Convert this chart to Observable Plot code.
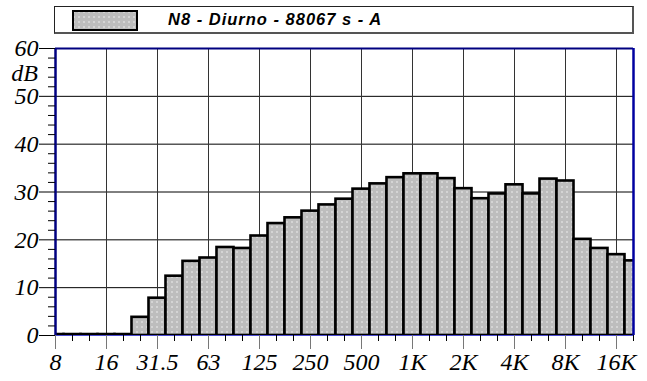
<!DOCTYPE html>
<html>
<head>
<meta charset="utf-8">
<script src="https://cdn.jsdelivr.net/npm/d3@7"></script>
<script src="https://cdn.jsdelivr.net/npm/@observablehq/plot@0.6"></script>
<style>
  html, body { margin: 0; padding: 0; background: #fff; }
  #wrap { position: relative; width: 647px; height: 381px; overflow: hidden; }
  #legend { position: absolute; left: 54px; top: 6px; width: 577px; height: 25px;
            border: 1px solid #222; border-right: 2px solid #555; border-bottom: 2px solid #555; background: #fff; }
  #legend svg { position: absolute; left: 17px; top: 3px; }
  #legend .t { position: absolute; left: 113px; top: 2px; font: italic bold 16.5px "Liberation Sans", Arial, sans-serif; letter-spacing: 1px; color: #000; white-space: nowrap; line-height: 20px; }
  #db { position: absolute; right: 609px; top: 65px; font: italic 24px "Liberation Serif", "Times New Roman", serif; line-height: 16px; color: #000; }
</style>
</head>
<body>
<div id="wrap"></div>
<script>
// Third-octave band centres (Hz) and measured levels (dB)
const bands = ["8","10","12.5","16","20","25","31.5","40","50","63","80","100","125","160","200","250","315","400","500","630","800","1K","1.25K","1.6K","2K","2.5K","3.15K","4K","5K","6.3K","8K","10K","12.5K","16K","20K"];
const levels = [0.2,0.2,0.2,0.2,0.2, 3.8,7.8,12.4,15.5,16.2,18.4,18.2,20.8,23.4,24.6, 26.0,27.3,28.5,30.6,31.7,33.0,33.8,33.8,32.8, 30.7,28.6,29.6,31.5,29.6,32.7,32.3,20.1,18.2,16.9,15.6];
const xLabels = ["8","16","31.5","63","125","250","500","1K","2K","4K","8K","16K"];
const yMajor = [0,10,20,30,40,50,60];
const yMinor = d3.range(0, 61, 2).filter(v => v % 10 !== 0);
const seriesName = "N8 - Diurno - 88067 s - A";

const data = bands.map((b, i) => ({band: b, i, v: levels[i]}));
const labelIdx = xLabels.map(l => bands.indexOf(l));
const allIdx = bands.map((b, i) => i);
const last = bands.length - 1;

const chart = Plot.plot({
  width: 647,
  height: 381,
  marginLeft: 55,
  marginRight: 14,
  marginTop: 48,
  marginBottom: 46,
  x: {type: "linear", domain: [0, last], axis: null},
  y: {domain: [0, 60], axis: null},
  style: {background: "white", overflow: "visible", fontFamily: "Liberation Serif", fontStyle: "italic", fontSize: "24px"},
  marks: [
    Plot.ruleY(yMajor.filter(v => v > 0 && v < 60), {stroke: "#000", strokeWidth: 1}),
    Plot.ruleX(labelIdx.filter(i => i > 0), {stroke: "#333", strokeWidth: 1}),
    Plot.rect(data, {x1: d => d.i - 0.5, x2: d => d.i + 0.5, y1: 0, y2: "v",
      fill: "url(#dots)", stroke: "#000", strokeWidth: 2.6, clip: true}),
    Plot.ruleY([0], {stroke: "#4a4ad0", strokeWidth: 1}),
    Plot.ruleY([60], {stroke: "#000080", strokeWidth: 2}),
    Plot.ruleX([0], {stroke: "#000080", strokeWidth: 2.5}),
    Plot.ruleX([last], {stroke: "#0000a0", strokeWidth: 2.5}),
    // y axis: minor + major ticks
    Plot.axisY(yMinor, {anchor: "left", tickSize: 7, tickFormat: () => "", stroke: "#000", label: null}),
    Plot.axisY(yMajor, {anchor: "left", tickSize: 16, tickPadding: 1, stroke: "#000",
      fontSize: 24, fontFamily: "Liberation Serif", fontStyle: "italic", fill: "#000", label: null}),
    // x axis: minor + major ticks
    Plot.axisX(allIdx, {anchor: "bottom", tickSize: 6, tickFormat: () => "", stroke: "#000", label: null}),
    Plot.axisX(labelIdx, {anchor: "bottom", tickSize: 14, tickPadding: 3, stroke: "#777",
      tickFormat: i => bands[i], fontSize: 24, fontFamily: "Liberation Serif", fontStyle: "italic", fill: "#000", label: null})
  ]
});

const svg = d3.select(chart);
// dotted gray fill pattern
const pat = svg.insert("defs", ":first-child").append("pattern")
  .attr("id", "dots").attr("width", 5).attr("height", 5).attr("patternUnits", "userSpaceOnUse");
pat.append("rect").attr("width", 5).attr("height", 5).attr("fill", "#bdbdbd");
pat.append("rect").attr("x", 1).attr("y", 1).attr("width", 2).attr("height", 2).attr("fill", "#d4d4d4");

const wrap = document.getElementById("wrap");
wrap.appendChild(chart);

// legend
const legend = document.createElement("div");
legend.id = "legend";
legend.innerHTML = `<svg width="66" height="21"><rect x="1" y="1" width="64" height="19" fill="url(#dots)" stroke="#000" stroke-width="2"/></svg><span class="t"></span>`;
legend.querySelector(".t").textContent = seriesName;
wrap.appendChild(legend);

const db = document.createElement("div");
db.id = "db";
db.textContent = "dB";
wrap.appendChild(db);
</script>
</body>
</html>
